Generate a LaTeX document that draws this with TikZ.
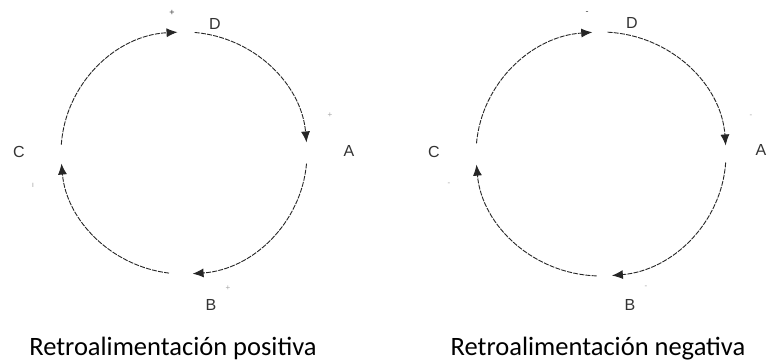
\documentclass[tikz,border=0pt]{standalone}
\usepackage{fontspec}
\setmainfont{Carlito}
\newfontfamily\lblfont{Liberation Sans}
\usetikzlibrary{arrows.meta,calc}
\tikzset{
  loopline/.style={draw=black!85, line width=0.9pt, dash pattern=on 5pt off 1.2pt,
    -{Latex[length=11pt,width=9pt]}},
  letter/.style={font=\lblfont\fontsize{16}{18}\selectfont, text=black!80, inner sep=0pt},
  sign/.style={font=\lblfont\fontsize{9}{10}\selectfont, text=black!75, inner sep=0pt},
  faint/.style={font=\lblfont\fontsize{8}{9}\selectfont, text=black!35, inner sep=0pt},
  caption/.style={font=\fontsize{26.5}{29}\selectfont, anchor=base, inner sep=0pt}
}
\begin{document}
\begin{tikzpicture}[x=1pt,y=1pt]
\clip (0,0) rectangle (769,362);
\fill[white] (0,0) rectangle (769,362);
% ---------- left loop (positive) ----------
\coordinate (Lc) at (184,209);
\coordinate (LD1) at ($(Lc)+(85:123 and 121)$);
\coordinate (LA1) at ($(Lc)+(-5:123 and 121)$);
\coordinate (LB1) at ($(Lc)+(-97:123 and 121)$);
\coordinate (LC1) at ($(Lc)+(176:123 and 121)$);
\draw[loopline] (LD1) arc[start angle=85, end angle=5, x radius=123, y radius=121];
\draw[loopline] (LA1) arc[start angle=-5, end angle=-86, x radius=123, y radius=121];
\draw[loopline] (LB1) arc[start angle=-97, end angle=-175, x radius=123, y radius=121];
\draw[loopline] (LC1) arc[start angle=176, end angle=93, x radius=123, y radius=121];
\node[letter] (LD) at (215,338) {D};
\node[letter] (LA) at (349,211) {A};
\node[letter] (LB) at (211,57) {B};
\node[letter] (LC) at (19,210) {C};
\node[sign] (LsD) at (172,349) {+};
\node[faint] (LsA) at (330,247) {+};
\node[faint] (LsB) at (228,74) {+};
\node[faint] (LsC) at (33,177) {ı};
\node[caption] (Lcap) at (173,7) {Retroalimentación positiva};
% ---------- right loop (negative) ----------
\coordinate (Rc) at (601,208);
\coordinate (RD1) at ($(Rc)+(87:125 and 122)$);
\coordinate (RA1) at ($(Rc)+(-4:125 and 122)$);
\coordinate (RB1) at ($(Rc)+(-92:125 and 122)$);
\coordinate (RC1) at ($(Rc)+(175:125 and 122)$);
\draw[loopline] (RD1) arc[start angle=87, end angle=4, x radius=125, y radius=122];
\draw[loopline] (RA1) arc[start angle=-4, end angle=-85, x radius=125, y radius=122];
\draw[loopline] (RB1) arc[start angle=-92, end angle=-175, x radius=125, y radius=122];
\draw[loopline] (RC1) arc[start angle=175, end angle=94, x radius=125, y radius=122];
\node[letter] (RD) at (632,339) {D};
\node[letter] (RA) at (761,212) {A};
\node[letter] (RB) at (630,57) {B};
\node[letter] (RC) at (434,210) {C};
\node[sign] (RsD) at (587,349) {-};
\node[faint] (RsA) at (751,246) {-};
\node[faint] (RsB) at (646,75) {-};
\node[faint] (RsC) at (449,178) {-};
\node[caption] (Rcap) at (598,7) {Retroalimentación negativa};
\end{tikzpicture}
\end{document}
